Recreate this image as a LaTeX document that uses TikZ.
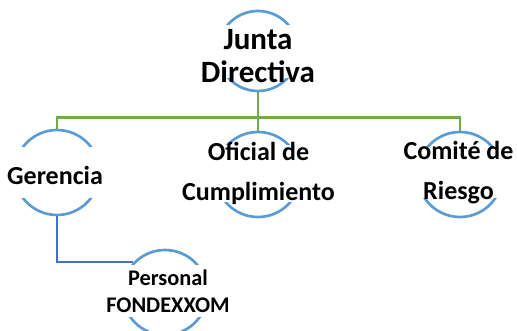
\documentclass[tikz,border=0pt]{standalone}
\usepackage{fontspec}
\setmainfont{Carlito}
\definecolor{ringblue}{RGB}{91,155,213}
\definecolor{trunkgreen}{RGB}{112,173,71}
\definecolor{branchblue}{RGB}{68,114,196}
\tikzset{every picture/.style={line width=2pt}}

\begin{document}
\begin{tikzpicture}[x=0.75pt,y=0.75pt,yscale=-1,xscale=1,
  bub/.style={circle,draw=ringblue,inner sep=0pt,minimum size=63.75pt},
  lbl/.style={align=center,inner sep=0pt,font=\bfseries\fontsize{19.5}{30}\selectfont},
  toptext/.style={font=\bfseries\fontsize{23.25}{24.75}\selectfont},
  subtext/.style={font=\bfseries\fontsize{16.75}{20.25}\selectfont},
  trunk/.style={draw=trunkgreen},
  branch/.style={draw=branchblue}]
\useasboundingbox (0,0) rectangle (517,331);

%Circles
\node [bub,minimum size=60pt] (jd) at (258,51) {};
\node [bub] (ger) at (57,172.5) {};
\node [bub] (ofi) at (258,174.5) {};
\node [bub] (com) at (460,174.5) {};
\node [bub] (per) at (165,292.5) {};

%Masks over the sides of the circles
\fill [white] (jd) +(-50,-26) rectangle +(50,27);
\fill [white] (ger) +(-50,-25.5) rectangle +(50,25.5);
\fill [white] (ofi) +(-50,-29.5) rectangle +(50,27.5);
\fill [white] (com) +(-50,-27.5) rectangle +(50,23.5);
\fill [white] (per) +(-50,-27.5) rectangle +(50,24.5);

%Connectors
\draw [trunk] (jd.south) -- ++(0,25) -| (ger.north);
\draw [trunk] (jd.south) -- ++(0,25) -| (com.north);
\draw [trunk] (jd.south) -- (ofi.north);
\draw [branch] (ger.south) |- (per.136);

% Text Node
\node [lbl,toptext] (jdt) at (258,56.5) {Junta\\Directiva};
% Text Node
\node [lbl] (gert) at (55,175) {Gerencia};
% Text Node
\node [lbl] (ofit) at (258.5,173) {Oficial de\\Cumplimiento};
% Text Node
\node [lbl] (comt) at (458.5,173) {Comité de\\Riesgo};
% Text Node
\node [lbl,subtext] (pert) at (168,291.5) {Personal\\FONDEXXOM};

\end{tikzpicture}
\end{document}
